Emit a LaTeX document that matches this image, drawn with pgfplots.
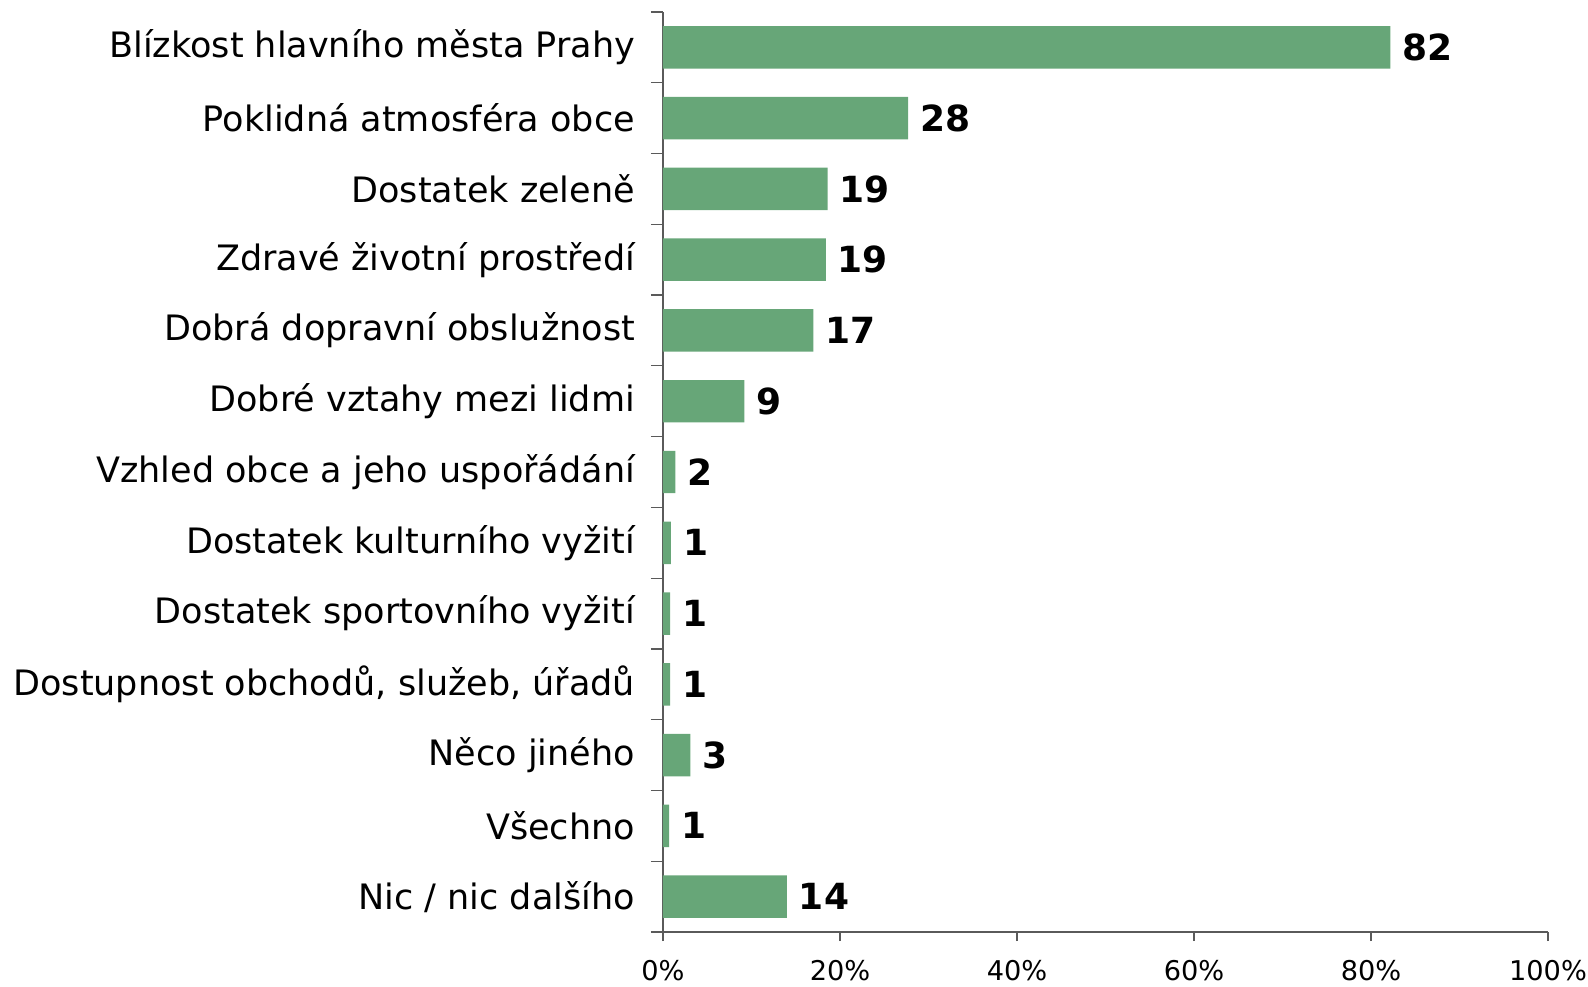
\documentclass[border=0pt]{standalone}
\usepackage{fontspec}
\setmainfont{DejaVu Sans}
\usepackage{pgfplots}
\pgfplotsset{compat=1.18}
\definecolor{barg}{RGB}{103,166,120}
\definecolor{axg}{RGB}{90,90,90}
\begin{document}
\begin{tikzpicture}
\begin{axis}[
  scale only axis,
  width=442.5pt, height=460pt,
  xbar, bar width=0.6,
  y dir=reverse,
  xmin=0, xmax=100, ymin=-0.5, ymax=12.5,
  axis x line*=bottom, axis y line*=left,
  axis line style={axg, line width=0.6pt},
  xtick={0,20,40,60,80,100},
  xticklabels={0\%,20\%,40\%,60\%,80\%,100\%},
  ytick={0,...,12},
  yticklabels={Blízkost hlavního města Prahy,Poklidná atmosféra obce,Dostatek zeleně,Zdravé životní prostředí,Dobrá dopravní obslužnost,Dobré vztahy mezi lidmi,Vzhled obce a jeho uspořádání,Dostatek kulturního vyžití,Dostatek sportovního vyžití,{Dostupnost obchodů, služeb, úřadů},Něco jiného,Všechno,Nic / nic dalšího},
  minor ytick={-0.5,0.5,1.5,2.5,3.5,4.5,5.5,6.5,7.5,8.5,9.5,10.5,11.5,12.5},
  tick align=outside,
  major tick length=4.5pt,
  minor tick length=6pt,
  major y tick style={draw=none},
  minor y tick style={axg, line width=0.6pt},
  major x tick style={axg, line width=0.6pt},
  y tick label style={font=\fontsize{17.5}{21}\selectfont, anchor=east, xshift=-6pt},
  x tick label style={font=\fontsize{13.6}{16}\selectfont, yshift=-6pt},
  /pgf/number format/assume math mode=true,
  point meta=explicit symbolic,
  nodes near coords,
  nodes near coords style={font=\fontsize{18}{21}\selectfont\bfseries, anchor=west, xshift=2.5pt},
  clip=false,
]
\addplot[fill=barg, draw=none] coordinates {
 (82.2,0) [82]
 (27.7,1) [28]
 (18.6,2) [19]
 (18.4,3) [19]
 (17.0,4) [17]
 (9.2,5) [9]
 (1.4,6) [2]
 (0.9,7) [1]
 (0.8,8) [1]
 (0.8,9) [1]
 (3.1,10) [3]
 (0.7,11) [1]
 (14.0,12) [14]
};
\end{axis}
\pgfresetboundingbox
\path ([shift={(-331.5pt,-27pt)}]current axis.south west) rectangle ([shift={(20pt,6pt)}]current axis.north east);
\end{tikzpicture}
\end{document}
